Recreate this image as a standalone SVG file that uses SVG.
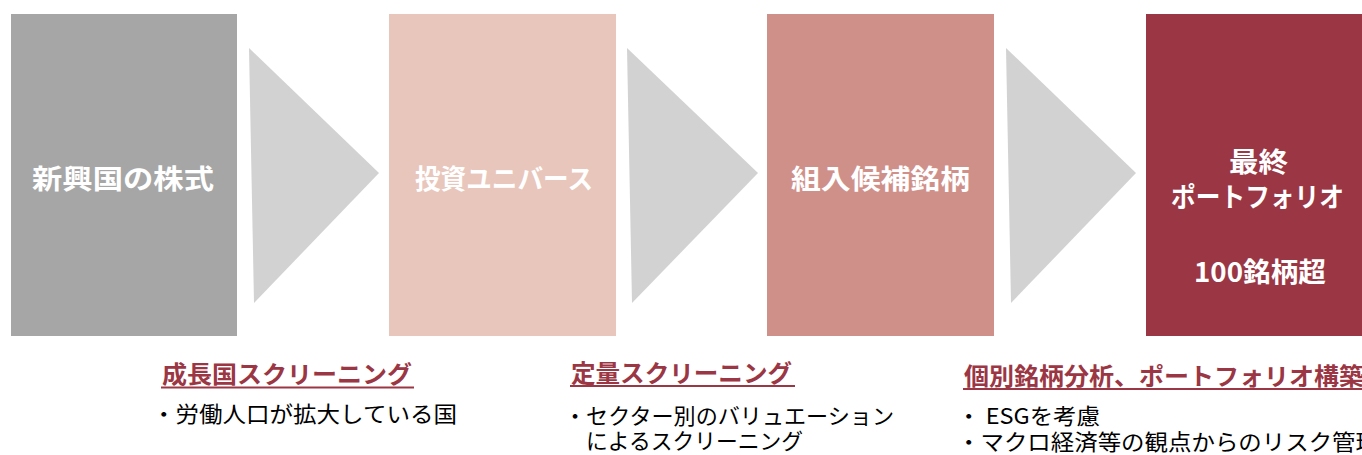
<svg xmlns="http://www.w3.org/2000/svg" width="1362" height="455" viewBox="0 0 1362 455">
<style>
.lbl{font-family:"Noto Sans CJK JP","Noto Sans",sans-serif;font-weight:bold;font-size:27px;fill:#FFFFFF}
.hd{font-family:"Noto Sans CJK JP","Noto Sans",sans-serif;font-weight:bold;font-size:24px;fill:#9B3744}
.bd{font-family:"Noto Sans CJK JP","Noto Sans",sans-serif;font-size:22px;fill:#000000}
.arr{fill:#D2D2D2}
.ul{stroke:#9B3744;stroke-width:2}
</style>
<rect width="1362" height="455" fill="#FFFFFF"/>
<g id="connectors">
<polygon class="arr" points="249,48 379,173 254,303"/>
<polygon class="arr" points="627,48 758,173 632,303"/>
<polygon class="arr" points="1006,48 1136,173 1011,303"/>
</g>
<g id="node-emerging">
<rect x="11" y="14" width="226" height="322" fill="#A6A6A6"/>
<text class="lbl" x="32" y="189" textLength="182" lengthAdjust="spacingAndGlyphs">新興国の株式</text>
</g>
<g id="node-universe">
<rect x="389" y="14" width="227" height="322" fill="#E8C6BB"/>
<text class="lbl" x="415" y="189" textLength="178" lengthAdjust="spacingAndGlyphs">投資ユニバース</text>
</g>
<g id="node-candidates">
<rect x="767" y="14" width="227" height="322" fill="#D0908A"/>
<text class="lbl" x="791" y="189" textLength="179" lengthAdjust="spacingAndGlyphs">組入候補銘柄</text>
</g>
<g id="node-portfolio">
<rect x="1146" y="14" width="226" height="322" fill="#9B3744"/>
<text class="lbl" x="1229" y="172" textLength="59" lengthAdjust="spacingAndGlyphs">最終</text>
<text class="lbl" x="1171" y="207" textLength="173" lengthAdjust="spacingAndGlyphs">ポートフォリオ</text>
<text class="lbl" x="1194" y="282" textLength="132" lengthAdjust="spacingAndGlyphs">100銘柄超</text>
</g>
<g id="step-country">
<text class="hd" x="162" y="383" textLength="250" lengthAdjust="spacingAndGlyphs">成長国スクリーニング</text>
<line class="ul" x1="161" y1="387.5" x2="414" y2="387.5"/>
<text class="bd" x="152" y="422" textLength="305" lengthAdjust="spacingAndGlyphs">・労働人口が拡大している国</text>
</g>
<g id="step-quant">
<text class="hd" x="571" y="382" textLength="221" lengthAdjust="spacingAndGlyphs">定量スクリーニング</text>
<line class="ul" x1="570" y1="386" x2="795" y2="386"/>
<text class="bd" x="564" y="424" textLength="330" lengthAdjust="spacingAndGlyphs">・セクター別のバリュエーション</text>
<text class="bd" x="586" y="449" textLength="217" lengthAdjust="spacingAndGlyphs">によるスクリーニング</text>
</g>
<g id="step-stock">
<text class="hd" x="964" y="385" textLength="400" lengthAdjust="spacingAndGlyphs">個別銘柄分析、ポートフォリオ構築</text>
<line class="ul" x1="963" y1="389" x2="1362" y2="389"/>
<text class="bd" x="957" y="424" textLength="143" lengthAdjust="spacingAndGlyphs">・ ESGを考慮</text>
<text class="bd" x="957" y="450" textLength="422" lengthAdjust="spacingAndGlyphs">・マクロ経済等の観点からのリスク管理</text>
</g>
</svg>
